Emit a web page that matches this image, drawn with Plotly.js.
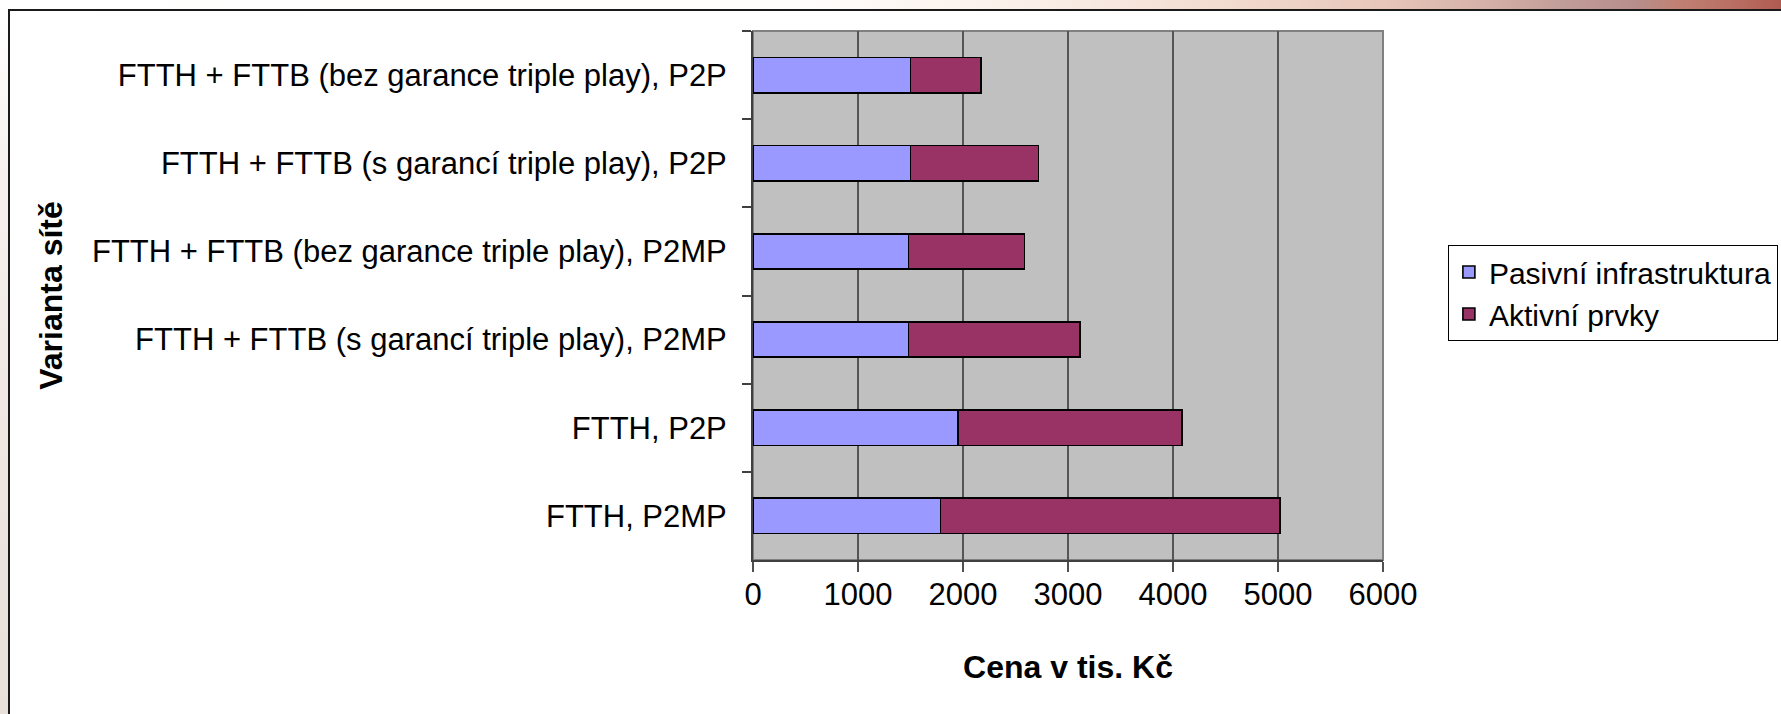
<!DOCTYPE html>
<html>
<head>
<meta charset="utf-8">
<script src="https://cdn.plot.ly/plotly-3.0.1.min.js"></script>
<style>
  html, body { margin: 0; padding: 0; width: 1781px; height: 714px; overflow: hidden; background: #ffffff; }
  #topstrip { position: absolute; left: 0; top: 0; width: 1781px; height: 9px;
    background: linear-gradient(to right, #ffffff 0%, #fffdfc 45%, #faefe8 58%, #f3ddd1 68%, #e7c6b9 78%, #d3aea6 84%, #c09c98 88%, #b78d8a 92%, #c08275 94%, #b86a5f 98%, #b05b52 100%); }
  #leftstrip { position: absolute; left: 0; top: 0; width: 8px; height: 714px;
    background: linear-gradient(to bottom, #ffffff 0%, #f6f1ef 25%, #efe6e2 60%, #e9e0da 100%); }
  #frame { position: absolute; left: 8px; top: 9px; width: 1800px; height: 720px;
    border-left: 2px solid #1a1a1a; border-top: 2px solid #1a1a1a; background: #ffffff; }
  #chart { position: absolute; left: 0; top: 0; width: 1781px; height: 714px; }
</style>
</head>
<body>
<div id="topstrip"></div>
<div id="leftstrip"></div>
<div id="frame"></div>
<div id="chart"></div>
<script>
// Categories listed top to bottom as in the reference
const categories = [
  "FTTH + FTTB (bez garance triple play), P2P",
  "FTTH + FTTB (s garancí triple play), P2P",
  "FTTH + FTTB (bez garance triple play), P2MP",
  "FTTH + FTTB (s garancí triple play), P2MP",
  "FTTH, P2P",
  "FTTH, P2MP"
];
const pasivniInfrastruktura = [1500, 1500, 1480, 1480, 1955, 1785];
const aktivniPrvky = [670, 1220, 1105, 1635, 2130, 3235];
const seriesNames = ["Pasivní infrastruktura", "Aktivní prvky"];
const xTickValues = [0, 1000, 2000, 3000, 4000, 5000, 6000];

const FONT = '"Liberation Sans", Arial, sans-serif';

const traces = [
  {
    type: 'bar', orientation: 'h', name: seriesNames[0],
    y: categories, x: pasivniInfrastruktura,
    marker: { color: '#9999FF', line: { color: '#000000', width: 1.6 } },
    hoverinfo: 'x+y'
  },
  {
    type: 'bar', orientation: 'h', name: seriesNames[1],
    y: categories, x: aktivniPrvky,
    marker: { color: '#993366', line: { color: '#000000', width: 1.6 } },
    hoverinfo: 'x+y'
  }
];

const layout = {
  width: 1781, height: 714,
  paper_bgcolor: 'rgba(0,0,0,0)',
  plot_bgcolor: '#C0C0C0',
  margin: { l: 753, r: 398, t: 31, b: 154, pad: 0, autoexpand: false },
  barmode: 'stack',
  bargap: 0.6,
  font: { family: FONT, size: 31, color: '#000000' },
  showlegend: true,
  legend: {
    x: 1.103, y: 0.5955, xanchor: 'left', yanchor: 'top',
    bgcolor: '#ffffff', bordercolor: '#000000', borderwidth: 1,
    font: { family: FONT, size: 30, color: '#000000' },
    traceorder: 'normal'
  },
  xaxis: {
    range: [0, 6000], tickvals: xTickValues, ticktext: xTickValues.map(String),
    showgrid: true, gridcolor: '#555555', gridwidth: 2,
    zeroline: false,
    showline: true, linecolor: '#404040', linewidth: 2,
    ticks: 'outside', ticklen: 10, tickcolor: '#505050', tickwidth: 2,
    ticklabelstandoff: -4,
    tickfont: { family: FONT, size: 31, color: '#000000' },
    title: { text: 'Cena v tis. Kč', font: { family: FONT, size: 32, color: '#000000', weight: 'bold' }, standoff: 44 },
    fixedrange: true
  },
  yaxis: {
    type: 'category', autorange: 'reversed',
    showgrid: false, zeroline: false,
    showline: true, linecolor: '#404040', linewidth: 2,
    ticks: 'outside', tickson: 'boundaries', ticklen: 9, tickcolor: '#404040', tickwidth: 2,
    ticklabelstandoff: 18,
    tickfont: { family: FONT, size: 31, color: '#000000' },
    title: { text: 'Varianta sítě', font: { family: FONT, size: 32, color: '#000000', weight: 'bold' }, standoff: 20 },
    fixedrange: true
  },
  shapes: [
    { type: 'rect', xref: 'paper', yref: 'paper', x0: 0, x1: 1, y0: 0, y1: 1,
      line: { color: '#808080', width: 2 }, layer: 'below' }
  ]
};

Plotly.newPlot('chart', traces, layout, { displayModeBar: false, staticPlot: true });
</script>
</body>
</html>
